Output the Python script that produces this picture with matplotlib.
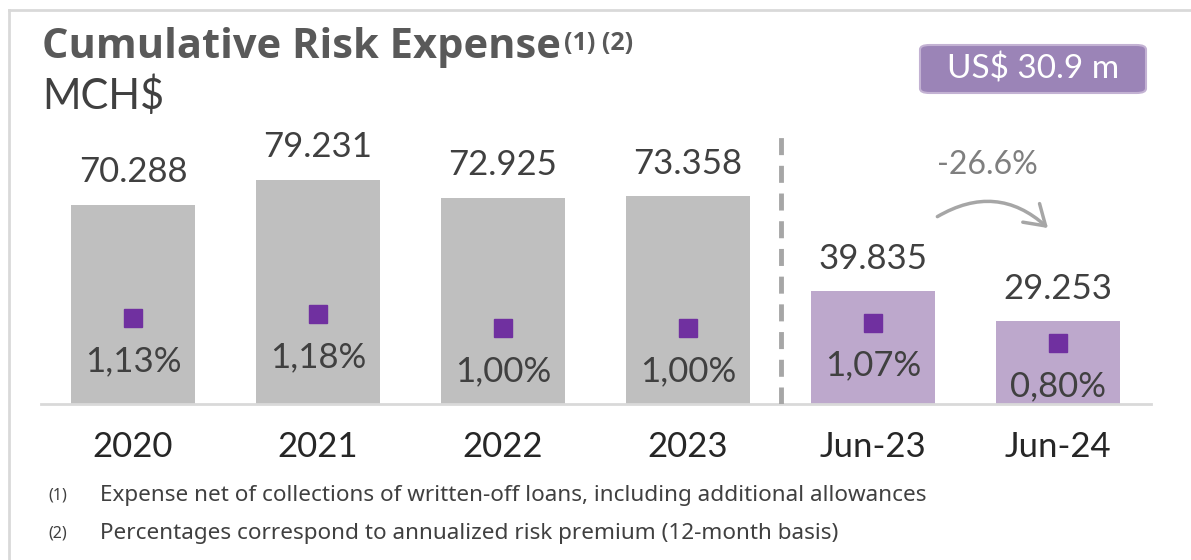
import matplotlib
matplotlib.use("Agg")
import matplotlib.pyplot as plt
from matplotlib.patches import FancyBboxPatch, FancyArrowPatch
from matplotlib.lines import Line2D

periods = ["2020", "2021", "2022", "2023", "Jun-23", "Jun-24"]
expense = [70.288, 79.231, 72.925, 73.358, 39.835, 29.253]
risk_pct = [1.13, 1.18, 1.00, 1.00, 1.07, 0.80]
expense_labels = ["70.288", "79.231", "72.925", "73.358", "39.835", "29.253"]
pct_labels = ["1,13%", "1,18%", "1,00%", "1,00%", "1,07%", "0,80%"]
usd_badge = "US$ 30.9 m"

W, H = 1191, 560
FONT = "Lato"
GRAY_BAR = "#BFBFBF"
PURPLE_BAR = "#BDA8CC"
MARKER = "#7030A0"

fig = plt.figure(figsize=(W / 100, H / 100), dpi=100)
fig.patch.set_facecolor("white")

# plotting area: x from 40.5 to 1150.5 px, y from 120 to 404 px
ax = fig.add_axes([40.5 / W, 1 - 404 / H, 1110 / W, 284 / H])
ax.set_xlim(-0.5, 5.5)
ax.set_ylim(0, 100.35)
ax.patch.set_alpha(0)

x = list(range(len(periods)))
colors = [GRAY_BAR] * 4 + [PURPLE_BAR] * 2
ax.bar(x, expense, width=0.665, color=colors, zorder=2)

for s in ["top", "right", "left"]:
    ax.spines[s].set_visible(False)
ax.spines["bottom"].set_color("#D9D9D9")
ax.spines["bottom"].set_linewidth(2)
ax.set_yticks([])
ax.set_xticks([])

for xi, v, lab in zip(x, expense, expense_labels):
    ax.annotate(lab, xy=(xi, v), xytext=(0, 23.5), textcoords="offset points",
                ha="center", va="center", fontsize=25, color="#404040", family=FONT)

for xi, lab in zip(x, periods):
    ax.annotate(lab, xy=(xi, 0), xycoords=("data", "axes fraction"), xytext=(0, -31),
                textcoords="offset points", ha="center", va="center",
                fontsize=25, color="#262626", family=FONT, annotation_clip=False)

# separator between full years and half years
ax.axvline(3.5, ymin=0, ymax=(404 - 127) / 284, color="#A6A6A6", lw=3.5,
           dashes=(3.5, 2.2), zorder=3)

# risk premium on secondary scale
ax2 = ax.twinx()
ax2.set_ylim(0, 284 / 76)
ax2.axis("off")
ax2.plot(x, risk_pct, ls="none", marker="s", ms=13.5, color=MARKER, zorder=4)
for xi, p, lab in zip(x, risk_pct, pct_labels):
    ax2.annotate(lab, xy=(xi, p), xytext=(0, -31), textcoords="offset points",
                 ha="center", va="center", fontsize=25, color="#404040", family=FONT)

# change between Jun-23 and Jun-24
change = (expense[5] / expense[4] - 1) * 100
ax.text(4.616, 84.5, f"{change:.1f}%", ha="center", va="center",
        fontsize=23, color="#7F7F7F", family=FONT)
arrow = FancyArrowPatch((4.335, 65.7), (4.957, 61.5), connectionstyle="arc3,rad=-0.38",
                        arrowstyle="->,head_length=14,head_width=9", color="#A6A6A6",
                        lw=2.5, mutation_scale=1)
ax.add_patch(arrow)

# title block
title = fig.text(42 / W, 1 - 47 / H, "Cumulative Risk Expense", ha="left", va="center",
                 fontsize=30, fontweight="bold", color="#595959", family="Open Sans")
fig.canvas.draw()
bb = title.get_window_extent()
fig.text((bb.x1 + 3) / W, 1 - 43 / H, "(1) (2)", ha="left", va="center",
         fontsize=18, fontweight="bold", color="#595959", family="Open Sans")
fig.text(42 / W, 1 - 96 / H, "MCH$", ha="left", va="center",
         fontsize=30, color="#404040", family=FONT)

badge = FancyBboxPatch((920 / W, 1 - 93 / H), 226 / W, 48 / H,
                       boxstyle="round,pad=0,rounding_size=0.008",
                       transform=fig.transFigure, facecolor="#9B84B7",
                       edgecolor="#C3B2D3", lw=1.5)
fig.patches.append(badge)
fig.text(1033 / W, 1 - 69 / H, usd_badge, ha="center", va="center",
         fontsize=24, color="white", family=FONT)

# footnotes
notes = ["Expense net of collections of written-off loans, including additional allowances",
         "Percentages correspond to annualized risk premium (12-month basis)"]
for i, note in enumerate(notes):
    yy = 1 - (495 + 38 * i) / H
    fig.text(48 / W, yy, f"({i + 1})", ha="left", va="center", fontsize=11.5,
             color="#404040", family="Noto Sans")
    fig.text(100 / W, yy, note, ha="left", va="center", fontsize=16.2,
             color="#404040", family="Noto Sans")

# card border
fig.lines.append(Line2D([9 / W, 1], [1 - 10 / H, 1 - 10 / H], transform=fig.transFigure,
                        color="#D9D9D9", lw=2))
fig.lines.append(Line2D([9 / W, 9 / W], [0, 1 - 10 / H], transform=fig.transFigure,
                        color="#D9D9D9", lw=2))

fig.savefig("out.png", dpi=100, facecolor="white")
